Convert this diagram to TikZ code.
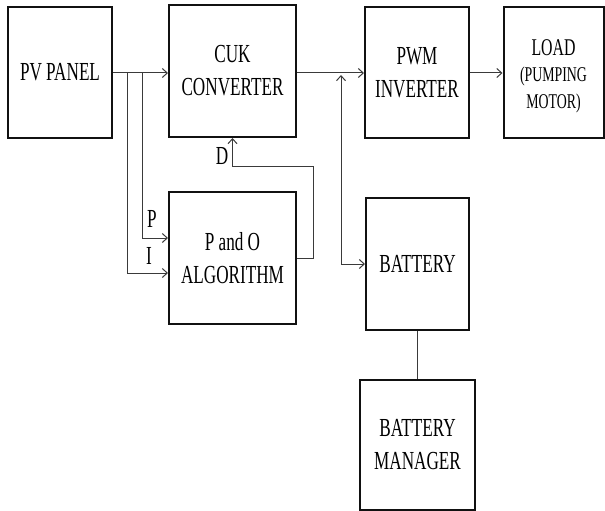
\documentclass[tikz,border=0pt]{standalone}
\usepackage{fontspec}
\setmainfont{Liberation Serif}[FakeStretch=0.66]
\usetikzlibrary{arrows.meta, positioning, calc}
\definecolor{BoxBlack}{HTML}{111111}
\definecolor{WireGray}{HTML}{3A3A3A}
\tikzset{
    % block boxes
    block/.style={
        rectangle,
        draw=BoxBlack,
        line width=2pt,
        align=center,
        inner sep=0pt,
        font=\fontsize{26}{33}\selectfont
    },
    % connectors
    arrow/.style={
        ->,
        >={Straight Barb[length=5pt,width=9pt]},
        line width=1pt,
        draw=WireGray
    },
    wire/.style={
        line width=1pt,
        draw=WireGray
    },
    sig/.style={
        font=\fontsize{26}{26}\selectfont
    }
}
\begin{document}
\begin{tikzpicture}[x=1pt, y=-1pt]
    \useasboundingbox (0,0) rectangle (605,511);

    % top row
    \node[block, minimum width=104pt, minimum height=131pt] (pv) at (60,72.5) {PV PANEL};
    \node[block, minimum width=127pt, minimum height=132pt] (cuk) at (232.5,71) {CUK\\CONVERTER};
    \node[block, minimum width=104pt, minimum height=131pt] (pwm) at (417,72.5) {PWM\\INVERTER};
    \node[block, minimum width=100pt, minimum height=131pt] (load) at (553.5,72.5) {};
    \node[font=\fontsize{24}{27}\selectfont, align=center] (loadtxt) at ([yshift=-4pt]load.center)
        {LOAD\\[-1pt]{\fontsize{21}{27}\selectfont (PUMPING}\\{\fontsize{21}{27}\selectfont MOTOR)}};

    % lower blocks
    \node[block, minimum width=127pt, minimum height=132pt] (po) at (232.5,258) {P and O\\ALGORITHM};
    \node[block, minimum width=103pt, minimum height=132pt] (bat) at (417.5,264) {BATTERY};
    \node[block, minimum width=115pt, minimum height=130pt] (mgr) at (417.5,445) {BATTERY\\MANAGER};

    % taps and turns
    \coordinate (tapI) at (127,73);
    \coordinate (tapP) at (142,73);
    \coordinate (dturn) at (313,166);
    \coordinate (junc) at (341,75);

    % main power path
    \draw[arrow] (pv.east |- tapI) -- (cuk.west |- tapI);
    \draw[arrow] (cuk.east |- tapI) -- (pwm.west |- tapI);
    \draw[arrow] (pwm.east |- tapI) -- (load.west |- tapI);

    % measurements to P and O
    \draw[arrow] (tapP) |- ([yshift=20pt]po.west);
    \draw[arrow] (tapI) |- ([yshift=-15pt]po.west);
    \node[sig] (plabel) at (152,219) {P};
    \node[sig] (ilabel) at (149,256) {I};

    % duty cycle back to converter
    \draw[arrow] (po.east) -| (dturn) -| (cuk.south);
    \node[sig] (dlabel) at (222,156) {D};

    % battery link
    \draw[arrow, <->] (junc) |- (bat.west);
    \draw[wire] (bat.south) -- (mgr.north);
\end{tikzpicture}
\end{document}
